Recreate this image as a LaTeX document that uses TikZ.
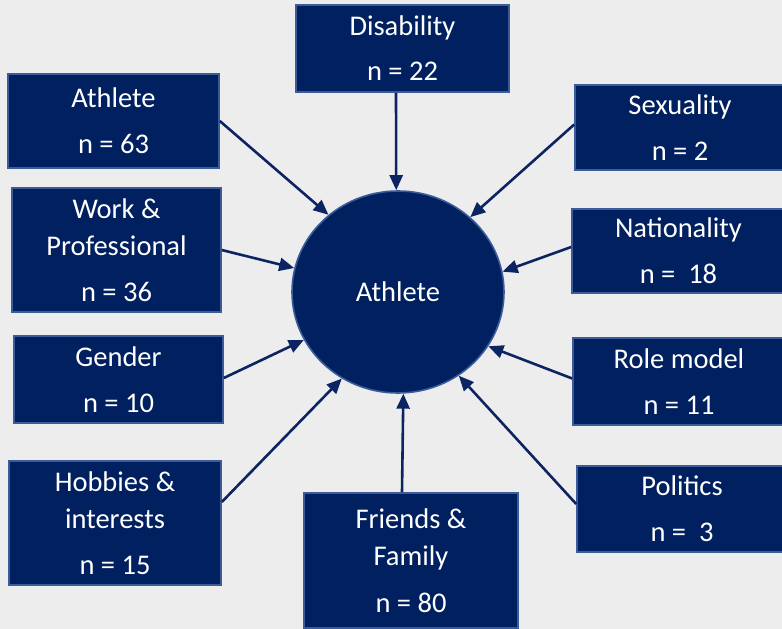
\documentclass[tikz,border=0pt]{standalone}
\usepackage{fontspec}
\setmainfont{Carlito}
\usetikzlibrary{shapes.geometric,arrows.meta}
\definecolor{bgc}{HTML}{EDEDED}
\definecolor{navy}{HTML}{002060}
\definecolor{edgec}{HTML}{3A5C9A}
\definecolor{arrc}{HTML}{0C2462}
\tikzset{
  box/.style={draw=edgec, line width=1.6pt, fill=navy, text=white, inner sep=0pt,
    align=center, font=\fontsize{28.5}{37}\selectfont, anchor=center,
    execute at begin node={\rule{0pt}{25pt}}},
  hub/.style={ellipse, draw=edgec, line width=1.6pt, fill=navy, text=white, inner sep=0pt,
    font=\fontsize{28.5}{37}\selectfont, minimum width=212pt, minimum height=202pt},
  arr/.style={draw=arrc, line width=2.6pt, -{Triangle[length=15pt,width=13pt]}}
}
\begin{document}
\begin{tikzpicture}[x=1pt,y=-1pt]
\useasboundingbox (0,0) rectangle (782,629);
\fill[bgc] (0,0) rectangle (782,629);
\clip (0,0) rectangle (782,629);
\node[box, minimum width=211pt, minimum height=94pt] (ath) at (113.5,121) {Athlete\\[9pt]n = 63};
\node[box, minimum width=209pt, minimum height=124pt] (work) at (116.5,250) {Work \&\\Professional\\[9pt]n = 36};
\node[box, minimum width=213pt, minimum height=87pt] (dis) at (402.5,48.5) {Disability\\[8pt]n = 22};
\node[box, minimum width=210pt, minimum height=85pt] (sex) at (680,127.5) {Sexuality\\[9pt]n = 2};
\node[box, minimum width=213pt, minimum height=84pt] (nat) at (678.5,251) {Nationality\\[9pt]n =~~18};
\node[box, minimum width=212pt, minimum height=87pt] (role) at (679,381.5) {Role model\\[9pt]n = 11};
\node[box, minimum width=210pt, minimum height=86pt] (pol) at (682,509) {Politics\\[9pt]n =~~3};
\node[box, minimum width=209pt, minimum height=87pt] (gen) at (118.5,379.5) {Gender\\[9pt]n = 10};
\node[box, minimum width=212pt, minimum height=124pt] (hob) at (115,523) {Hobbies \&\\interests\\[9pt]n = 15};
\node[box, minimum width=214pt, minimum height=135pt] (fam) at (411,560.5) {Friends \&\\Family\\[10pt]n = 80};
\node[hub] (c) at (398,292) {\raisebox{-2pt}{Athlete}};
\draw[arr] (ath.east) -- (c.132.7);
\draw[arr] (work.east) -- (c.167.1);
\draw[arr] ([xshift=-6.5pt]dis.south) -- (c.91.1);
\draw[arr] ([yshift=3pt]sex.west) -- (c.46.9);
\draw[arr] ([yshift=4pt]nat.west) -- (c.11.8);
\draw[arr] ([yshift=3pt]role.west) -- (c.-31.7);
\draw[arr] ([yshift=5pt]pol.west) -- (c.-54.9);
\draw[arr] ([xshift=-9pt]fam.north) -- (c.-87.8);
\draw[arr] ([yshift=1.5pt]gen.east) -- (c.207.5);
\draw[arr] ([yshift=21pt]hob.east) -- (c.237.8);
\end{tikzpicture}
\end{document}
